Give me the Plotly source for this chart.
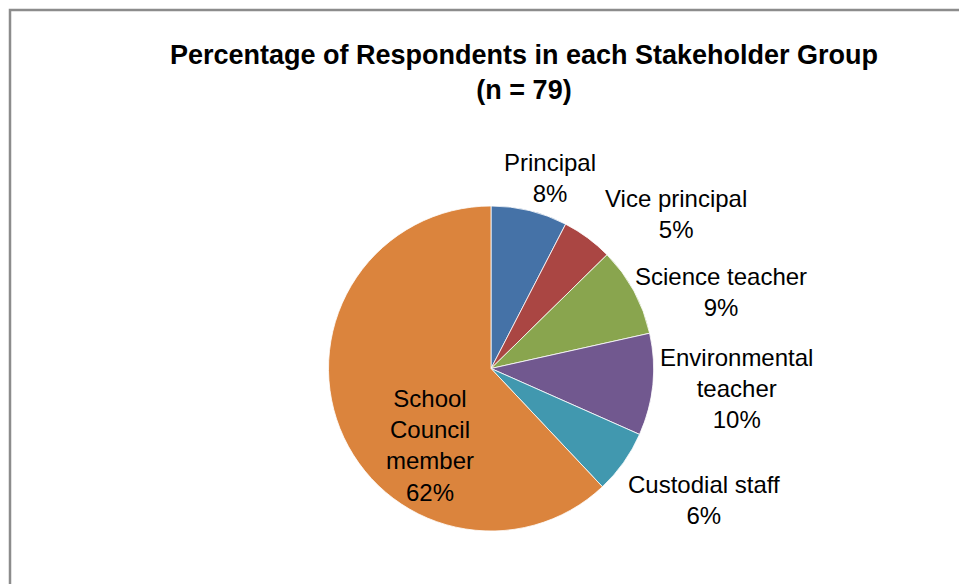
import plotly.graph_objects as go

# Stakeholder groups surveyed (n = 79)
groups = ["Principal", "Vice principal", "Science teacher",
          "Environmental teacher", "Custodial staff", "School Council member"]
label_lines = ["Principal", "Vice principal", "Science teacher",
               "Environmental<br>teacher", "Custodial staff",
               "School<br>Council<br>member"]
respondents = [6, 4, 7, 8, 5, 49]
colors = ["#4572A7", "#AA4643", "#89A54E", "#71588F", "#4198AF", "#DB843D"]

W, H = 959, 584
CX, CY, R = 491, 368.5, 162.5  # pie centre and radius in pixels

# Data-label block centres (pixels from top-left of the canvas)
label_centres = [(550, 178), (676, 214), (721, 292),
                 (736, 388), (704, 500), (430, 445)]

total = sum(respondents)
percents = [round(100 * v / total) for v in respondents]

fig = go.Figure(
    go.Pie(
        labels=groups,
        values=respondents,
        textinfo="none",
        marker=dict(colors=colors, line=dict(color="#FFFFFF", width=0.8)),
        sort=False,
        direction="clockwise",
        rotation=0,
        showlegend=False,
        hoverinfo="label+percent",
        domain=dict(x=[(CX - R) / W, (CX + R) / W],
                    y=[(H - CY - R) / H, (H - CY + R) / H]),
    )
)

annotations = []
for text, pct, (px, py) in zip(label_lines, percents, label_centres):
    annotations.append(dict(
        text=f"{text}<br>{pct}%",
        xref="paper", yref="paper",
        x=px / W, y=1 - py / H,
        xanchor="center", yanchor="middle",
        showarrow=False,
        align="center",
        font=dict(family="Liberation Sans", size=24, color="#000000"),
    ))

fig.update_layout(
    width=W,
    height=H,
    margin=dict(l=0, r=0, t=0, b=0),
    paper_bgcolor="#FFFFFF",
    title=dict(
        text="<b>Percentage of Respondents in each Stakeholder Group<br>(n = 79)</b>",
        font=dict(family="Liberation Sans", size=27, color="#000000"),
        x=524 / W, xanchor="center", xref="container",
        y=1 - 64 / H, yanchor="middle", yref="container",
    ),
    annotations=annotations,
    shapes=[
        dict(type="rect", xref="paper", yref="paper",
             x0=10 / W, x1=1.2, y0=-0.2, y1=1 - 10 / H,
             line=dict(color="#8C8C8C", width=2.5), fillcolor="rgba(0,0,0,0)"),
    ],
)

fig.write_html("out.html")
